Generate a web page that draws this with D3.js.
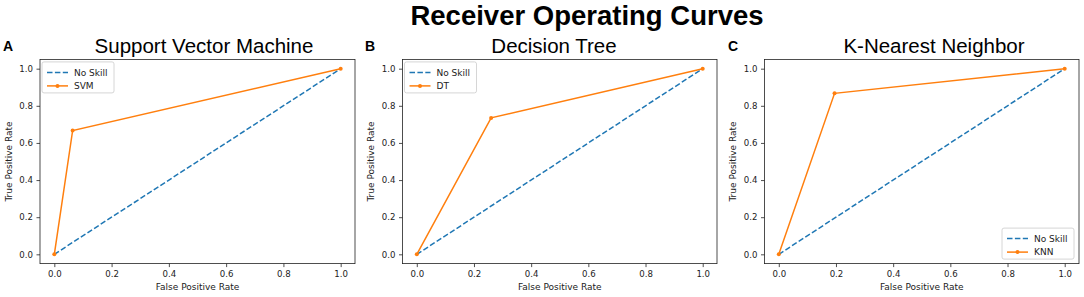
<!DOCTYPE html>
<html>
<head>
<meta charset="utf-8">
<script src="https://cdn.jsdelivr.net/npm/d3@7"></script>
<style>
  body { margin: 0; background: #fff; }
  svg { display: block; }
  .tick text { font-family: "DejaVu Sans", sans-serif; font-size: 8.6px; fill: #222; }
  .axis-label { font-family: "DejaVu Sans", sans-serif; font-size: 9px; fill: #222; }
  .legend text { font-family: "DejaVu Sans", sans-serif; font-size: 9px; fill: #222; }
</style>
</head>
<body>
<script>
// Chart data
const panelLetters = ["A", "B", "C"];
const panelTitles = ["Support Vector Machine", "Decision Tree", "K-Nearest Neighbor"];
const modelNames = ["SVM", "DT", "KNN"];
const modelFpr = [[0, 0.064, 1], [0, 0.26, 1], [0, 0.195, 1]];
const modelTpr = [[0, 0.667, 1], [0, 0.735, 1], [0, 0.867, 1]];
const noSkillFpr = [0, 1];
const noSkillTpr = [0, 1];
const tickValues = [0, 0.2, 0.4, 0.6, 0.8, 1.0];
const legendCorner = ["upper left", "upper left", "lower right"];

const width = 1084, height = 297;
const blue = "#1f77b4", orange = "#ff7f0e";

// frame positions of each subplot
const frames = [
  { left: 40, right: 355 },
  { left: 402.5, right: 717 },
  { left: 764.5, right: 1079 }
];
const frameTop = 59.4, frameBottom = 263.6;
const titleCenters = [204, 554, 934];
const letterX = [3, 365, 728];

const svg = d3.select("body").append("svg")
  .attr("width", width)
  .attr("height", height);

// Main title
svg.append("text")
  .attr("x", 587)
  .attr("y", 25.2)
  .attr("text-anchor", "middle")
  .style("font-family", "Liberation Sans, Arial, sans-serif")
  .style("font-weight", "bold")
  .style("font-size", "27.5px")
  .text("Receiver Operating Curves");

const line = d3.line();

frames.forEach((f, i) => {
  const x = d3.scaleLinear().domain([-0.05, 1.05]).range([f.left, f.right]);
  const y = d3.scaleLinear().domain([-0.05, 1.05]).range([frameBottom, frameTop]);
  const g = svg.append("g");

  // panel letter and subplot title
  g.append("text")
    .attr("x", letterX[i])
    .attr("y", 50.5)
    .style("font-family", "Liberation Sans, Arial, sans-serif")
    .style("font-weight", "bold")
    .style("font-size", "14px")
    .text(panelLetters[i]);

  g.append("text")
    .attr("x", titleCenters[i])
    .attr("y", 53)
    .attr("text-anchor", "middle")
    .style("font-family", "Liberation Sans, Arial, sans-serif")
    .style("font-size", "20.5px")
    .text(panelTitles[i]);

  // axes
  const xAxis = d3.axisBottom(x).tickValues(tickValues).tickFormat(d3.format(".1f")).tickSize(3.5).tickPadding(3.5);
  const yAxis = d3.axisLeft(y).tickValues(tickValues).tickFormat(d3.format(".1f")).tickSize(3.5).tickPadding(3.5);

  g.append("g")
    .attr("transform", `translate(0,${frameBottom})`)
    .call(xAxis)
    .call(a => a.select(".domain").remove());
  g.append("g")
    .attr("transform", `translate(${f.left},0)`)
    .call(yAxis)
    .call(a => a.select(".domain").remove());
  g.selectAll(".tick line").attr("stroke", "#222").attr("stroke-width", 0.8);

  // frame
  g.append("rect")
    .attr("x", f.left)
    .attr("y", frameTop)
    .attr("width", f.right - f.left)
    .attr("height", frameBottom - frameTop)
    .attr("fill", "none")
    .attr("stroke", "#222")
    .attr("stroke-width", 0.8);

  // axis labels
  g.append("text")
    .attr("class", "axis-label")
    .attr("x", (f.left + f.right) / 2)
    .attr("y", 290)
    .attr("text-anchor", "middle")
    .text("False Positive Rate");
  g.append("text")
    .attr("class", "axis-label")
    .attr("transform", `translate(${f.left - 28.5},${(frameTop + frameBottom) / 2}) rotate(-90)`)
    .attr("text-anchor", "middle")
    .text("True Positive Rate");

  // no skill line
  const ns = noSkillFpr.map((v, k) => [x(v), y(noSkillTpr[k])]);
  g.append("path")
    .attr("d", line(ns))
    .attr("fill", "none")
    .attr("stroke", blue)
    .attr("stroke-width", 1.5)
    .attr("stroke-dasharray", "5.5,2.4");

  // model line
  const pts = modelFpr[i].map((v, k) => [x(v), y(modelTpr[i][k])]);
  g.append("path")
    .attr("d", line(pts))
    .attr("fill", "none")
    .attr("stroke", orange)
    .attr("stroke-width", 1.5);
  g.selectAll(".marker")
    .data(pts)
    .enter()
    .append("circle")
    .attr("cx", d => d[0])
    .attr("cy", d => d[1])
    .attr("r", 2)
    .attr("fill", orange);

  // legend
  const lw = 72, lh = 31;
  const lx = legendCorner[i] === "upper left" ? f.left + 2 : f.right - lw - 5;
  const ly = legendCorner[i] === "upper left" ? frameTop + 2.5 : frameBottom - lh - 4.5;
  const leg = g.append("g").attr("class", "legend").attr("transform", `translate(${lx},${ly})`);
  leg.append("rect")
    .attr("width", lw)
    .attr("height", lh)
    .attr("rx", 2)
    .attr("fill", "#fff")
    .attr("fill-opacity", 0.8)
    .attr("stroke", "#ccc")
    .attr("stroke-width", 0.8);
  const items = [
    { name: "No Skill", color: blue, dash: "5.5,2.4", marker: false },
    { name: modelNames[i], color: orange, dash: null, marker: true }
  ];
  items.forEach((it, k) => {
    const yy = 10.5 + k * 13.5;
    leg.append("line")
      .attr("x1", 5).attr("x2", 26)
      .attr("y1", yy).attr("y2", yy)
      .attr("stroke", it.color)
      .attr("stroke-width", 1.5)
      .attr("stroke-dasharray", it.dash);
    if (it.marker) {
      leg.append("circle").attr("cx", 15.5).attr("cy", yy).attr("r", 2).attr("fill", it.color);
    }
    leg.append("text")
      .attr("x", 32)
      .attr("y", yy)
      .attr("dy", "0.35em")
      .text(it.name);
  });
});
</script>
</body>
</html>
